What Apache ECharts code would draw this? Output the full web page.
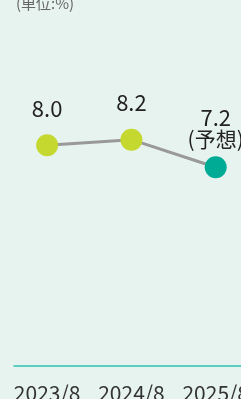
<!DOCTYPE html>
<html>
<head>
    <meta charset="utf-8">
    <title>chart</title>
    <script src="https://cdn.jsdelivr.net/npm/echarts@6/dist/echarts.min.js"></script>
    <style>
        html, body { margin: 0; padding: 0; background: #e7f3ef; }
    </style>
</head>
<body>
    <div id="main" style="width: 241px;height:399px;"></div>
    <script type="text/javascript">
        var categories = ['2023/8', '2024/8', '2025/8'];
        var values = [8.0, 8.2, 7.2];
        var forecast = [false, false, true];
        var unitText = '(単位:%)';

        var font = '"Noto Sans CJK JP", "Noto Sans", sans-serif';

        var points = values.map(function (v, i) {
            return {
                value: [i, v],
                itemStyle: { color: forecast[i] ? '#00ab95' : '#c5d82f' },
                label: {
                    formatter: forecast[i] ? '{v|' + v.toFixed(1) + '}\n{f|(予想)}' : '{v|' + v.toFixed(1) + '}',
                    distance: forecast[i] ? 6 : 15
                }
            };
        });

        var myChart = echarts.init(document.getElementById('main'));
        myChart.setOption({
            backgroundColor: '#e7f3ef',
            animation: false,
            title: {
                text: unitText,
                left: 11,
                top: -9,
                textStyle: { fontFamily: font, fontSize: 15, fontWeight: 'normal', color: '#666' }
            },
            grid: { left: 14, right: 0, top: 90, bottom: 33, outerBoundsMode: 'none', containLabel: false },
            xAxis: {
                type: 'value',
                min: -0.393,
                max: 2.3,
                splitLine: { show: false },
                axisLine: { show: true, onZero: false, lineStyle: { color: '#2ec4b6', width: 1.5 } },
                axisTick: { show: false },
                axisLabel: {
                    customValues: [0, 1, 2],
                    formatter: function (v) { return categories[Math.round(v)]; },
                    margin: 17,
                    fontFamily: font,
                    fontSize: 21,
                    color: '#333',
                    hideOverlap: false
                }
            },
            yAxis: {
                type: 'value',
                min: 0,
                max: 10,
                show: false
            },
            series: [{
                type: 'line',
                data: points,
                symbol: 'circle',
                symbolSize: 22,
                lineStyle: { color: '#999', width: 3 },
                label: {
                    show: true,
                    position: 'top',
                    fontFamily: font,
                    color: '#222',
                    rich: {
                        v: { fontFamily: font, fontSize: 22, lineHeight: 22, color: '#222' },
                        f: { fontFamily: font, fontSize: 21, lineHeight: 22, color: '#222' }
                    }
                }
            }]
        });
    </script>
</body>
</html>
